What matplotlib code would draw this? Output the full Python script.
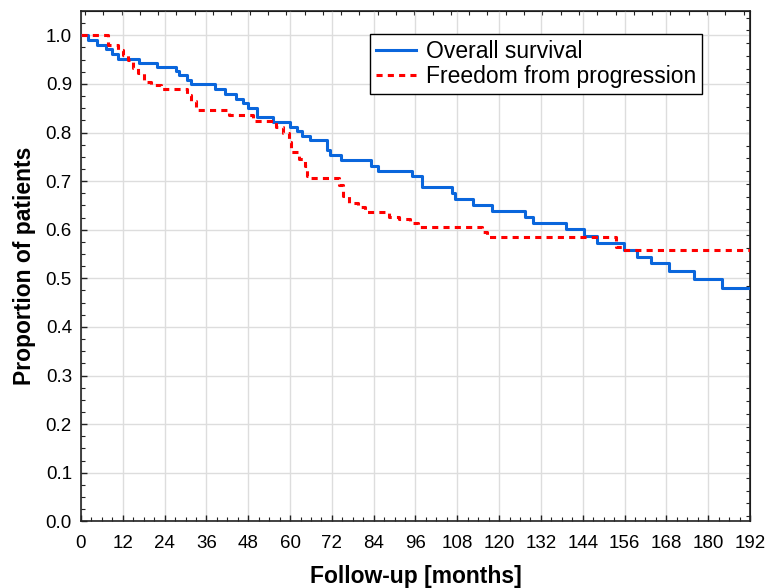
import numpy as np
import matplotlib
matplotlib.use("Agg")
import matplotlib.pyplot as plt
from matplotlib.ticker import MultipleLocator

# Kaplan-Meier style step curves (time in months, proportion)
os_months = [0, 2.0, 4.5, 7.2, 8.8, 10.7, 16.6, 21.9, 27.2, 28.0, 30.5, 31.5,
             38.4, 41.3, 44.4, 46.6, 48.0, 50.4, 55.0, 60.0, 62.0, 63.4, 65.6,
             70.5, 71.5, 74.5, 83.1, 85.2, 94.9, 97.8, 106.6, 107.4, 112.4,
             118.0, 127.4, 129.6, 139.2, 144.4, 148.0, 155.9, 159.7, 163.5,
             168.8, 175.9, 183.9, 192]
os_prop = [1.000, 0.990, 0.981, 0.972, 0.962, 0.952, 0.944, 0.935, 0.926, 0.918,
           0.909, 0.900, 0.890, 0.879, 0.869, 0.860, 0.851, 0.832, 0.822, 0.812,
           0.803, 0.793, 0.784, 0.764, 0.753, 0.743, 0.732, 0.721, 0.710, 0.687,
           0.675, 0.664, 0.651, 0.639, 0.627, 0.613, 0.601, 0.587, 0.573, 0.558,
           0.544, 0.531, 0.516, 0.499, 0.480, 0.480]

ffp_months = [0, 7.8, 10.5, 12.2, 13.6, 15.0, 16.5, 18.0, 20.0, 23.0, 30.5, 31.5,
              33.0, 42.5, 49.5, 56.0, 58.0, 59.6, 60.3, 62.6, 64.2, 65.0, 66.0,
              74.0, 75.2, 76.8, 79.5, 81.5, 88.3, 91.2, 94.3, 96.8, 115.0, 116.4,
              153.6, 155.2, 192]
ffp_prop = [1.000, 0.980, 0.969, 0.959, 0.950, 0.932, 0.922, 0.904, 0.897, 0.890,
            0.878, 0.865, 0.846, 0.836, 0.824, 0.811, 0.798, 0.781, 0.759, 0.745,
            0.732, 0.710, 0.706, 0.692, 0.670, 0.654, 0.647, 0.637, 0.627, 0.621,
            0.613, 0.605, 0.596, 0.584, 0.565, 0.558, 0.558]

plt.rcParams['font.family'] = ['Liberation Sans', 'DejaVu Sans']

fig = plt.figure(figsize=(7.69, 5.88), dpi=100)
ax = fig.add_axes([0.1053, 0.1134, 0.8700, 0.8679])

ax.step(os_months, os_prop, where='post', color='#0A66DC', lw=2.2,
        label='Overall survival', zorder=3)
ax.step(ffp_months, ffp_prop, where='post', color='#FF0000', lw=2.2,
        dashes=(2.0, 1.7), label='Freedom from progression', zorder=4)

ax.set_xlim(0, 192)
ax.set_ylim(0, 1.05)
ax.set_xticks(np.arange(0, 193, 12))
ax.set_yticks(np.arange(0, 1.01, 0.1))
ax.set_yticklabels([f"{v:.1f}" for v in np.arange(0, 1.01, 0.1)])
ax.xaxis.set_minor_locator(MultipleLocator(3))
ax.yaxis.set_minor_locator(MultipleLocator(0.025))
ax.tick_params(axis='both', which='both', direction='in', labelsize=13.5,
               color='#222222')
ax.tick_params(axis='both', which='major', length=4, width=1)
ax.tick_params(axis='both', which='minor', length=3, width=0.8)
ax.tick_params(axis='x', pad=10)
ax.tick_params(axis='y', pad=6.5)
ax.grid(True, which='major', color='#DDDDDD', lw=1.0, zorder=0)
ax.set_axisbelow(True)

for side in ['left', 'bottom', 'right', 'top']:
    ax.spines[side].set_color('#222222')
    ax.spines[side].set_linewidth(1.2)

# independent tick marks on top and right edges
top = ax.secondary_xaxis('top')
top.set_xticks(np.arange(1.15, 192, 5.25))
top.tick_params(direction='in', length=3, width=0.8, labeltop=False, color='#222222')
top.set_xticklabels([])
right = ax.secondary_yaxis('right')
right.set_yticks(np.arange(0.0105, 1.05, 0.0263))
right.tick_params(direction='in', length=3, width=0.8, labelright=False, color='#222222')
right.set_yticklabels([])

ax.set_xlabel('Follow-up [months]', fontsize=16.5, fontweight='bold', labelpad=9)
ax.set_ylabel('Proportion of patients', fontsize=16.5, fontweight='bold', labelpad=7)

leg = ax.legend(loc='upper left', bbox_to_anchor=(0.432, 0.955), fontsize=16.5,
                frameon=True, fancybox=False, edgecolor='black', framealpha=1,
                handlelength=1.75, borderpad=0.25, labelspacing=0.1,
                handletextpad=0.45, borderaxespad=0)
leg.get_frame().set_linewidth(1.0)

fig.savefig('out.png', dpi=100)
